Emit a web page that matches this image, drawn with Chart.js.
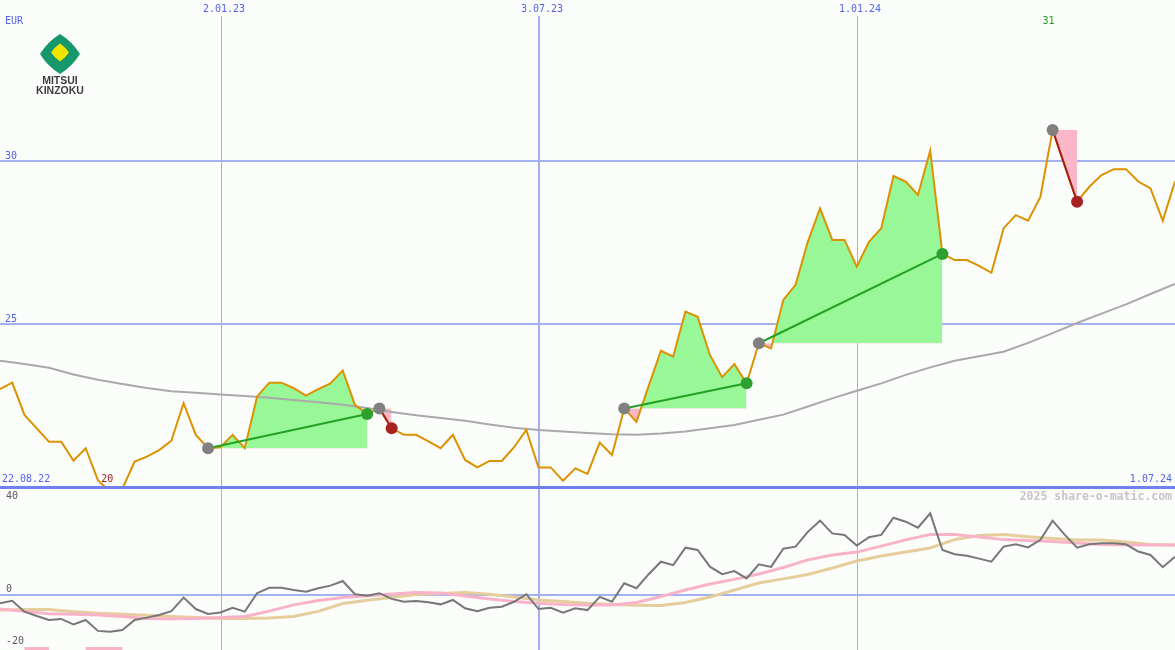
<!DOCTYPE html>
<html>
<head>
<meta charset="utf-8">
<script src="https://cdn.jsdelivr.net/npm/chart.js@4.4.1/dist/chart.umd.min.js"></script>
<style>
  html, body { margin: 0; padding: 0; background: #fbfdfb; }
  #wrap { width: 1175px; height: 650px; position: relative; }
</style>
</head>
<body>
<div id="wrap"><canvas id="chart"></canvas></div>
<script>
// weekly closing prices (EUR), week 0 .. 96
const price = [
  23.0, 23.2, 22.21, 21.8, 21.39, 21.39, 20.81, 21.19, 20.21, 19.85,
  19.95, 20.78, 20.93, 21.13, 21.42, 22.57, 21.6, 21.19, 21.22, 21.6,
  21.19, 22.77, 23.2, 23.2, 23.03, 22.8, 23.0, 23.18, 23.57, 22.52,
  22.24, 22.41, 21.8, 21.6, 21.6, 21.4, 21.19, 21.6, 20.83, 20.6,
  20.8, 20.8, 21.22, 21.75, 20.6, 20.6, 20.19, 20.57, 20.4, 21.36,
  20.98, 22.41, 22.0, 23.1, 24.18, 24.0, 25.38, 25.22, 24.05, 23.37,
  23.77, 23.18, 24.41, 24.25, 25.74, 26.2, 27.52, 28.55, 27.58, 27.58,
  26.76, 27.52, 27.94, 29.54, 29.37, 28.96, 30.32, 27.15, 26.96, 26.96,
  26.78, 26.57, 27.94, 28.34, 28.17, 28.9, 30.95, 29.85, 28.75, 29.21,
  29.57, 29.75, 29.75, 29.37, 29.16, 28.17, 29.37
];

// moving average, every second week
const movingAvg = [
  23.87, 23.77, 23.66, 23.45, 23.29, 23.16, 23.04, 22.94, 22.89, 22.84,
  22.79, 22.74, 22.67, 22.6, 22.52, 22.42, 22.3, 22.2, 22.12, 22.03,
  21.92, 21.82, 21.75, 21.7, 21.66, 21.62, 21.6, 21.64, 21.7, 21.8,
  21.9, 22.06, 22.22, 22.47, 22.72, 22.95, 23.18, 23.44, 23.67, 23.87,
  24.01, 24.15, 24.42, 24.72, 25.03, 25.32, 25.6, 25.92, 26.23
];

// lower panel: momentum (weekly)
const momentum = [
  -3.2, -2.2, -6.4, -8.1, -9.6, -9.2, -11.3, -9.6, -13.8, -14.1,
  -13.5, -9.6, -8.7, -7.7, -6.2, -1.0, -5.4, -7.3, -6.7, -4.9,
  -6.4, 0.7, 2.8, 2.8, 1.9, 1.3, 2.6, 3.6, 5.4, 0.3,
  -0.3, 0.7, -1.5, -2.6, -2.3, -2.8, -3.6, -1.9, -5.1, -6.2,
  -4.9, -4.5, -2.6, 0.3, -5.4, -4.9, -6.8, -5.1, -5.8, -0.7,
  -2.6, 4.5, 2.6, 8.0, 12.8, 11.5, 18.2, 17.3, 10.9, 8.0,
  9.2, 6.4, 11.8, 10.8, 17.8, 18.6, 24.3, 28.6, 23.7, 23.1,
  19.0, 22.2, 23.1, 29.7, 28.2, 25.9, 31.4, 17.3, 15.7, 15.1,
  14.0, 12.8, 18.6, 19.5, 18.3, 21.2, 28.6, 23.1, 18.2, 19.5,
  19.9, 19.9, 19.5, 16.7, 15.4, 10.7, 14.7
];

// lower panel: smoothed lines, every second week
const signalFast = [
  -5.4, -6.3, -7.2, -7.4, -7.7, -8.3, -9.0, -9.1, -9.0, -8.7,
  -8.3, -6.2, -3.8, -2.1, -1.0, -0.3, 0.4, 1.0, 0.8, -0.4,
  -1.5, -2.5, -3.2, -3.7, -3.8, -3.8, -2.9, -0.6, 1.9, 4.2,
  6.0, 8.1, 10.6, 13.5, 15.4, 16.5, 18.8, 21.2, 23.3, 23.3,
  22.3, 21.3, 21.0, 20.6, 20.0, 19.4, 19.2, 19.2, 19.2
];
const signalSlow = [
  -5.8, -5.6, -5.6, -6.4, -7.0, -7.4, -7.8, -8.3, -8.7, -9.0,
  -9.0, -8.8, -8.3, -6.3, -3.3, -2.0, -1.0, 0.2, 0.6, 1.0,
  0.3, -0.8, -1.9, -2.5, -3.2, -3.7, -3.9, -4.0, -2.9, -0.8,
  1.9, 4.6, 6.2, 7.9, 10.4, 13.1, 15.0, 16.5, 18.1, 21.3,
  22.9, 23.3, 22.4, 21.7, 21.2, 21.2, 20.4, 19.4, 19.2
];

// trades: entry and exit weeks
const tradeEntry = [17, 31, 51, 62, 86];
const tradeExit = [30, 32, 61, 77, 88];

// pink bands at the bottom of the lower panel (weeks)
const bandStart = [2, 7];
const bandEnd = [4, 10];

// axis labels
const dateTickWeeks = [18.06, 44.04, 70.02];
const dateTickLabels = ['2.01.23', '3.07.23', '1.01.24'];
const firstDate = '22.08.22';
const lastDate = '1.07.24';
const priceTicks = [25, 30];
const oscTicks = [40, 0, -20];

const GREEN_FILL = '#98f898';
const PINK_FILL = '#fbb6c9';

const datasets = [];

// trade fill areas
tradeEntry.forEach((e, k) => {
  const x = tradeExit[k];
  const pts = [];
  for (let i = e; i <= x; i++) pts.push({ x: i, y: price[i] });
  datasets.push({
    data: pts, yAxisID: 'y', borderWidth: 0, pointRadius: 0, order: 10,
    backgroundColor: GREEN_FILL,
    fill: { target: { value: price[e] }, above: GREEN_FILL, below: PINK_FILL }
  });
});

// moving average
datasets.push({
  data: movingAvg.map((v, i) => ({ x: i * 2, y: v })), yAxisID: 'y',
  borderColor: '#a9a9a9', borderWidth: 2, pointRadius: 0, order: 8
});

// price
datasets.push({
  data: price.map((v, i) => ({ x: i, y: v })), yAxisID: 'y',
  borderColor: '#dc9200', borderWidth: 2, pointRadius: 0, order: 6,
  clip: { left: 2, top: 2, right: 2, bottom: -163 }
});

// trade lines
tradeEntry.forEach((e, k) => {
  const x = tradeExit[k];
  const win = price[x] > price[e];
  datasets.push({
    data: [{ x: e, y: price[e] }, { x: x, y: price[x] }], yAxisID: 'y',
    borderColor: win ? '#24a024' : '#a41c1c', borderWidth: 2, pointRadius: 0, order: 4
  });
});

// markers
datasets.push({
  data: tradeEntry.map(e => ({ x: e, y: price[e] })), yAxisID: 'y', showLine: false,
  pointRadius: 6, pointBorderWidth: 0, pointBackgroundColor: '#808080', order: 2
});
datasets.push({
  data: tradeExit.map(x => ({ x: x, y: price[x] })), yAxisID: 'y', showLine: false,
  pointRadius: 6, pointBorderWidth: 0, order: 1,
  pointBackgroundColor: tradeExit.map((x, k) => price[x] > price[tradeEntry[k]] ? '#2ea02e' : '#a82222')
});

// lower panel
datasets.push({
  data: signalSlow.map((v, i) => ({ x: i * 2, y: v })), yAxisID: 'y2',
  borderColor: '#e6cd9c', borderWidth: 3, pointRadius: 0, order: 9
});
datasets.push({
  data: signalFast.map((v, i) => ({ x: i * 2, y: v })), yAxisID: 'y2',
  borderColor: '#f9b3c8', borderWidth: 3, pointRadius: 0, order: 8
});
datasets.push({
  data: momentum.map((v, i) => ({ x: i, y: v })), yAxisID: 'y2',
  borderColor: '#777777', borderWidth: 2, pointRadius: 0, order: 7
});
bandStart.forEach((s, k) => {
  datasets.push({
    data: [{ x: s, y: -20.6 }, { x: bandEnd[k], y: -20.6 }], yAxisID: 'y2',
    borderColor: '#f9b3c8', borderWidth: 3, pointRadius: 0, order: 7
  });
});

function hLine(ctx, y, w, color, x0, x1) {
  ctx.save();
  ctx.strokeStyle = color;
  ctx.lineWidth = w;
  const yy = w % 2 ? Math.round(y) + 0.5 : Math.round(y);
  ctx.beginPath(); ctx.moveTo(x0, yy); ctx.lineTo(x1, yy); ctx.stroke();
  ctx.restore();
}
function vLine(ctx, x, w, color, y0, y1) {
  ctx.save();
  ctx.strokeStyle = color;
  ctx.lineWidth = w;
  const xx = w % 2 ? Math.round(x) + 0.5 : Math.round(x);
  ctx.beginPath(); ctx.moveTo(xx, y0); ctx.lineTo(xx, y1); ctx.stroke();
  ctx.restore();
}

const gridPlugin = {
  id: 'grid',
  beforeDatasetsDraw(chart) {
    const { ctx, chartArea: a, scales } = chart;
    dateTickWeeks.forEach((w, i) => {
      const x = scales.x.getPixelForValue(w);
      vLine(ctx, x, i === 1 ? 2 : 1, i === 1 ? '#a3adf2' : '#a9aedc', 16, a.bottom);
    });
    priceTicks.forEach(v => hLine(ctx, scales.y.getPixelForValue(v), 2, '#a3b0f2', a.left, a.right));
    hLine(ctx, scales.y2.getPixelForValue(0), 2, '#a3b0f2', a.left, a.right);
  },
  afterDatasetsDraw(chart) {
    const { ctx, chartArea: a, scales } = chart;
    const yBase = scales.y.getPixelForValue(20);
    hLine(ctx, yBase, 3, '#7080ee', a.left, a.right);

    ctx.save();
    ctx.font = '10px "DejaVu Sans Mono"';
    ctx.textBaseline = 'middle';
    ctx.fillStyle = '#5262ee';
    ctx.textAlign = 'center';
    dateTickWeeks.forEach((w, i) => {
      ctx.fillText(dateTickLabels[i], scales.x.getPixelForValue(w) + 3, 9);
    });
    ctx.textAlign = 'left';
    ctx.fillText('EUR', 5, 21);
    priceTicks.forEach(v => ctx.fillText(String(v), 5, scales.y.getPixelForValue(v) - 5));
    ctx.fillText(firstDate, 2, yBase - 8);
    ctx.textAlign = 'right';
    ctx.fillText(lastDate, a.right - 3, yBase - 8);

    // max / min price labels
    const maxV = Math.max(...price), minV = Math.min(...price);
    const iMax = price.indexOf(maxV), iMin = price.indexOf(minV);
    ctx.textAlign = 'center';
    ctx.fillStyle = '#1e9a1e';
    ctx.fillText(String(Math.round(maxV)), scales.x.getPixelForValue(iMax) - 4, 21);
    ctx.fillStyle = '#a41c1c';
    ctx.fillText(String(Math.round(minV)), scales.x.getPixelForValue(iMin) - 3, yBase - 8);

    // lower panel labels
    ctx.fillStyle = '#5a5a5a';
    ctx.textAlign = 'left';
    oscTicks.forEach(v => {
      const y = Math.max(scales.y2.getPixelForValue(v) - 6, yBase + 9);
      ctx.fillText(String(v), 6, y);
    });

    ctx.font = 'bold 11.5px "DejaVu Sans Mono"';
    ctx.fillStyle = '#c6c6c6';
    ctx.textAlign = 'right';
    ctx.fillText('2025 share-o-matic.com', a.right - 3, yBase + 10);
    ctx.restore();
  },
  afterDraw(chart) {
    // company logo
    const ctx = chart.ctx;
    const cx = 60, cy = 54;
    function diamond(r, b, color) {
      ctx.beginPath();
      ctx.moveTo(cx, cy - r);
      ctx.quadraticCurveTo(cx + r * b, cy - r * b, cx + r, cy);
      ctx.quadraticCurveTo(cx + r * b, cy + r * b, cx, cy + r);
      ctx.quadraticCurveTo(cx - r * b, cy + r * b, cx - r, cy);
      ctx.quadraticCurveTo(cx - r * b, cy - r * b, cx, cy - r);
      ctx.closePath();
      ctx.fillStyle = color;
      ctx.fill();
    }
    ctx.save();
    diamond(20, 0.62, '#17976c');
    ctx.translate(0, -1.5);
    diamond(9, 0.6, '#f2e600');
    ctx.restore();
    ctx.save();
    ctx.fillStyle = '#3c3c3c';
    ctx.font = 'bold 10.5px "Liberation Sans"';
    ctx.textAlign = 'center';
    ctx.textBaseline = 'middle';
    ctx.fillText('MITSUI', cx, 81);
    ctx.fillText('KINZOKU', cx, 91.5);
    ctx.restore();
  }
};

new Chart(document.getElementById('chart'), {
  type: 'line',
  data: { datasets },
  options: {
    animation: false,
    responsive: true,
    maintainAspectRatio: false,
    events: [],
    layout: { padding: 0, autoPadding: false },
    plugins: { legend: { display: false }, tooltip: { enabled: false } },
    elements: { line: { tension: 0 } },
    scales: {
      x: { type: 'linear', min: 0, max: 96, display: false },
      y: { type: 'linear', min: 15.0, max: 34.9387, display: false },
      y2: { type: 'linear', min: -21.154, max: 228.85, display: false }
    }
  },
  plugins: [gridPlugin]
});
</script>
</body>
</html>
